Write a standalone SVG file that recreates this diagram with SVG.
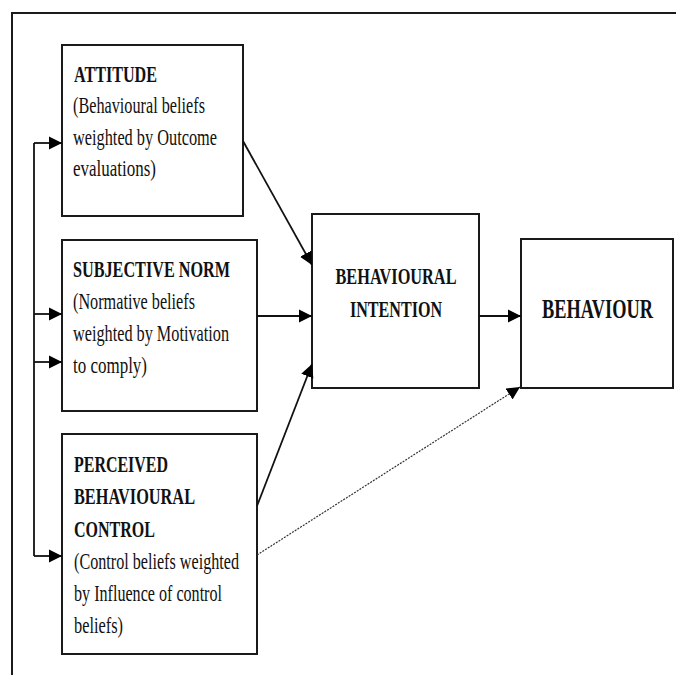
<svg xmlns="http://www.w3.org/2000/svg" width="676" height="675" viewBox="0 0 676 675">
<defs>
<style>
.box{fill:#fff;stroke:#1a1a1a;stroke-width:2}
.frame{fill:none;stroke:#1a1a1a;stroke-width:2}
.ln{fill:none;stroke:#111;stroke-width:1.8}
.dot{fill:none;stroke:#333;stroke-width:1.2;stroke-dasharray:2 1.2}
text{font-family:"Liberation Serif","Times New Roman",serif;fill:#111;font-size:24px}
.b{font-weight:bold}
.c{text-anchor:middle}
</style>
<marker id="ah" markerUnits="userSpaceOnUse" markerWidth="14" markerHeight="14" refX="13" refY="6.5" orient="auto" viewBox="0 0 14 13">
<path d="M0,0 L13,6.5 L0,13 z" fill="#000"/>
</marker>
</defs>
<rect width="676" height="675" fill="#fff"/>
<path class="frame" d="M12,675 V13 H676"/>
<g id="attitude">
<rect class="box" x="62" y="45" width="181" height="171"/>
<text class="b" x="74" y="82" textLength="83" lengthAdjust="spacingAndGlyphs">ATTITUDE</text>
<text x="73" y="113" textLength="132" lengthAdjust="spacingAndGlyphs">(Behavioural beliefs</text>
<text x="73" y="145" textLength="144" lengthAdjust="spacingAndGlyphs">weighted by Outcome</text>
<text x="73" y="176" textLength="83" lengthAdjust="spacingAndGlyphs">evaluations)</text>
</g>
<g id="subjective-norm">
<rect class="box" x="62" y="240" width="195" height="171"/>
<text class="b" x="73" y="277" textLength="157" lengthAdjust="spacingAndGlyphs">SUBJECTIVE NORM</text>
<text x="73" y="309" textLength="122" lengthAdjust="spacingAndGlyphs">(Normative beliefs</text>
<text x="73" y="341" textLength="156" lengthAdjust="spacingAndGlyphs">weighted by Motivation</text>
<text x="73" y="373" textLength="74" lengthAdjust="spacingAndGlyphs">to comply)</text>
</g>
<g id="perceived-behavioural-control">
<rect class="box" x="62" y="434" width="195" height="220"/>
<text class="b" x="74" y="472" textLength="94" lengthAdjust="spacingAndGlyphs">PERCEIVED</text>
<text class="b" x="74" y="504" textLength="121" lengthAdjust="spacingAndGlyphs">BEHAVIOURAL</text>
<text class="b" x="74" y="537" textLength="81" lengthAdjust="spacingAndGlyphs">CONTROL</text>
<text x="74" y="569" textLength="165" lengthAdjust="spacingAndGlyphs">(Control beliefs weighted</text>
<text x="74" y="601" textLength="148" lengthAdjust="spacingAndGlyphs">by Influence of control</text>
<text x="74" y="633" textLength="49" lengthAdjust="spacingAndGlyphs">beliefs)</text>
</g>
<g id="behavioural-intention">
<rect class="box" x="312" y="214" width="167" height="174"/>
<text class="b c" x="396" y="284" textLength="121" lengthAdjust="spacingAndGlyphs">BEHAVIOURAL</text>
<text class="b c" x="396" y="317" textLength="92" lengthAdjust="spacingAndGlyphs">INTENTION</text>
</g>
<g id="behaviour">
<rect class="box" x="521" y="239" width="152" height="149"/>
<text class="b c" transform="translate(597.5,318) scale(0.68,1)" x="0" y="0" style="font-size:27px">BEHAVIOUR</text>
</g>
<g id="connectors">
<path class="ln" d="M34,143 V556"/>
<path class="ln" d="M34,143 H62" marker-end="url(#ah)"/>
<path class="ln" d="M34,314 H62" marker-end="url(#ah)"/>
<path class="ln" d="M34,362 H62" marker-end="url(#ah)"/>
<path class="ln" d="M34,556 H62" marker-end="url(#ah)"/>
<path class="ln" d="M243,141 L312,265" marker-end="url(#ah)"/>
<path class="ln" d="M257,316 H312" marker-end="url(#ah)"/>
<path class="ln" d="M257,506 L312,364" marker-end="url(#ah)"/>
<path class="dot" d="M257,555 L520,387" marker-end="url(#ah)"/>
<path class="ln" d="M479,316 H521" marker-end="url(#ah)"/>
</g>
</svg>
